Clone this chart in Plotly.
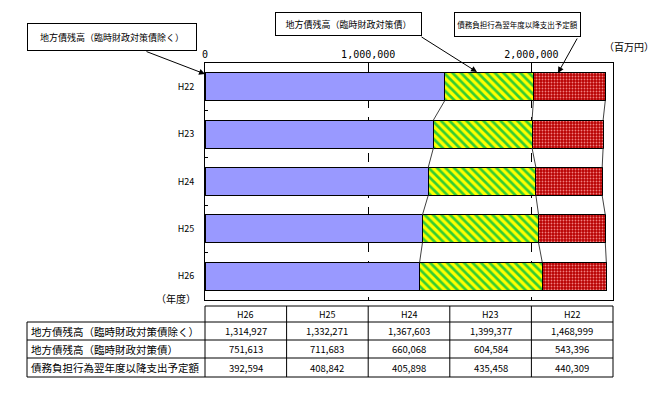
import plotly.graph_objects as go

# ---- data ----
years = ["H22", "H23", "H24", "H25", "H26"]
series_names = [
    "地方債残高（臨時財政対策債除く）",
    "地方債残高（臨時財政対策債）",
    "債務負担行為翌年度以降支出予定額",
]
s_chiho = [1468999, 1399377, 1367603, 1332271, 1314927]
s_rinji = [543396, 604584, 660068, 711683, 751613]
s_saimu = [440309, 435458, 405898, 408842, 392594]
x_ticks = [0, 1000000, 2000000]
x_ticktext = ["0", "1,000,000", "2,000,000"]

FONT = "Noto Sans CJK JP"
W_FIG, H_FIG = 667, 395
L, R, T, B = 205, 613, 63, 300
PW, PH = R - L, B - T


def px(x):
    return (x - L) / PW


def py(y):
    return (B - y) / PH


ypos = list(range(len(years)))
BW = 0.59

fig = go.Figure()
fig.add_trace(go.Bar(
    y=ypos, x=s_chiho, orientation="h", width=BW, name=series_names[0],
    marker=dict(color="#9999FF", line=dict(color="black", width=1)),
))
fig.add_trace(go.Bar(
    y=ypos, x=s_rinji, orientation="h", width=BW, name=series_names[1],
    marker=dict(color="#FFFF00", line=dict(color="black", width=1),
                pattern=dict(shape="\\", fgcolor="#33CC33", bgcolor="#FFFF00",
                             size=6, solidity=0.45, fillmode="replace")),
))
fig.add_trace(go.Bar(
    y=ypos, x=s_saimu, orientation="h", width=BW, name=series_names[2],
    marker=dict(color="#CC0000", line=dict(color="black", width=1),
                pattern=dict(shape=".", fgcolor="#F08080", bgcolor="#B80000",
                             size=3, solidity=0.3, fillmode="replace")),
))

# series lines connecting segment ends between consecutive bars
c1 = s_chiho
c2 = [a + b for a, b in zip(s_chiho, s_rinji)]
c3 = [a + b + c for a, b, c in zip(s_chiho, s_rinji, s_saimu)]
lx, ly = [], []
for cum in (c1, c2, c3):
    for i in range(len(years) - 1):
        lx += [cum[i], cum[i + 1], None]
        ly += [ypos[i] + BW / 2, ypos[i + 1] - BW / 2, None]
fig.add_trace(go.Scatter(x=lx, y=ly, mode="lines",
                         line=dict(color="#404040", width=1), hoverinfo="skip"))

fig.update_layout(
    width=W_FIG, height=H_FIG, autosize=False,
    margin=dict(l=L, r=W_FIG - R, t=T, b=H_FIG - B),
    barmode="stack", showlegend=False,
    paper_bgcolor="white", plot_bgcolor="white",
    font=dict(family=FONT, size=10, color="black"),
    xaxis=dict(side="top", range=[0, 2500000], tickvals=x_ticks, ticktext=x_ticktext,
               showgrid=True, gridcolor="black", griddash="dash", gridwidth=1,
               showline=True, mirror=True, linecolor="black", linewidth=1,
               ticks="", zeroline=False,
               tickfont=dict(size=10, family="DejaVu Sans Mono")),
    yaxis=dict(range=[len(years) - 0.5, -0.5], tickvals=ypos, ticktext=years,
               showgrid=False, zeroline=False, showline=True, mirror=True,
               linecolor="black", linewidth=1, ticks="", ticklabelstandoff=8,
               tickfont=dict(size=9),
               minor=dict(tickvals=[i + 0.5 for i in ypos[:-1]], ticks="inside",
                          ticklen=3, tickcolor="black", showgrid=False)),
)

ann = []
shapes = []

# callout boxes with arrows
boxes = [
    (series_names[0], 27, 197, 23, 51, 9, (145, 51), (205, 74)),
    (series_names[1], 275, 422, 12, 36, 9, (420, 36), (477, 72)),
    (series_names[2], 454, 581, 12, 37, 7.5, (578, 37), (558, 73)),
]
for text, x0, x1, y0, y1, fs, tail, head in boxes:
    ann.append(dict(xref="paper", yref="paper", x=px((x0 + x1) / 2), y=py((y0 + y1) / 2),
                    xanchor="center", yanchor="middle", text=text, showarrow=False,
                    width=x1 - x0 - 2, height=y1 - y0 - 2, borderpad=0,
                    bordercolor="black", borderwidth=1, bgcolor="white",
                    font=dict(size=fs)))
    ann.append(dict(xref="paper", yref="paper", x=px(head[0]), y=py(head[1]),
                    ax=tail[0] - head[0], ay=tail[1] - head[1], text="",
                    showarrow=True, arrowhead=2, arrowsize=1.2, arrowwidth=1,
                    arrowcolor="black"))

ann.append(dict(xref="paper", yref="paper", x=px(629), y=py(47), text="（百万円）",
                showarrow=False, xanchor="center", yanchor="middle", font=dict(size=10)))
ann.append(dict(xref="paper", yref="paper", x=px(176), y=py(298), text="（年度）",
                showarrow=False, xanchor="center", yanchor="middle", font=dict(size=10)))

# data table
rows_y = [306, 322, 340, 358, 377]
col_x = [L + PW * k / 5 for k in range(6)]
tx0 = 27
line = dict(color="black", width=1)
shapes.append(dict(type="line", xref="paper", yref="paper",
                   x0=px(L), x1=px(R), y0=py(rows_y[0]), y1=py(rows_y[0]), line=line))
for ry in rows_y[1:]:
    shapes.append(dict(type="line", xref="paper", yref="paper",
                       x0=px(tx0), x1=px(R), y0=py(ry), y1=py(ry), line=line))
shapes.append(dict(type="line", xref="paper", yref="paper",
                   x0=px(tx0), x1=px(tx0), y0=py(rows_y[1]), y1=py(rows_y[-1]), line=line))
for cx in col_x:
    shapes.append(dict(type="line", xref="paper", yref="paper",
                       x0=px(cx), x1=px(cx), y0=py(rows_y[0]), y1=py(rows_y[-1]), line=line))

table_cols = years[::-1]
table_rows = [s_chiho[::-1], s_rinji[::-1], s_saimu[::-1]]
for j, yr in enumerate(table_cols):
    ann.append(dict(xref="paper", yref="paper", x=px((col_x[j] + col_x[j + 1]) / 2),
                    y=py((rows_y[0] + rows_y[1]) / 2), text=yr, showarrow=False,
                    xanchor="center", yanchor="middle", font=dict(size=9)))
for r, (name, vals) in enumerate(zip(series_names, table_rows)):
    yc = py((rows_y[r + 1] + rows_y[r + 2]) / 2)
    ann.append(dict(xref="paper", yref="paper", x=px(tx0 + 2), y=yc, text=name,
                    showarrow=False, xanchor="left", yanchor="middle", font=dict(size=10.5)))
    for j, v in enumerate(vals):
        ann.append(dict(xref="paper", yref="paper", x=px((col_x[j] + col_x[j + 1]) / 2),
                        y=yc, text=f"{v:,}", showarrow=False,
                        xanchor="center", yanchor="middle", font=dict(size=9.5)))

fig.update_layout(annotations=ann, shapes=shapes)
fig.write_html("out.html")
